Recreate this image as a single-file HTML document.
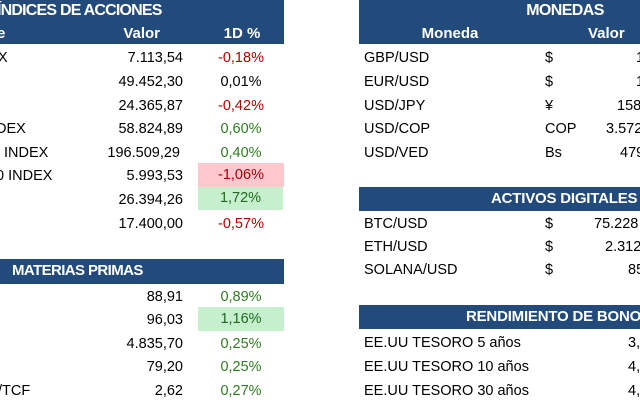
<!DOCTYPE html>
<html><head><meta charset="utf-8"><style>
body{margin:0;width:640px;height:404px;overflow:hidden;background:#fff;position:relative;font-family:"Liberation Sans",sans-serif;font-size:14.5px;color:#000}
.h{position:absolute;background:#224a7a;color:#fff;font-weight:bold;letter-spacing:-0.6px}
.t{position:absolute;white-space:nowrap;line-height:24px;height:24px}
.r{text-align:right}.c{text-align:center}
.red{color:#b00000}.grn{color:#2e7d1e}
.pk{background:#ffc7ce;color:#9c0006}.gk{background:#c6efce;color:#1e6b1e}
</style></head><body>
<div class="h" style="left:0;top:0;width:284px;height:44px"></div>
<div class="t" style="left:-3px;top:-1px;color:#fff;font-weight:bold;font-size:16px;letter-spacing:-0.8px">ÍNDICES DE ACCIONES</div>
<div class="t" style="left:-3px;top:22px;color:#fff;font-weight:bold;font-size:15px">e</div>
<div class="t r" style="left:100px;width:60px;top:22px;color:#fff;font-weight:bold;font-size:15px">Valor</div>
<div class="t c" style="left:200px;width:84px;top:22px;color:#fff;font-weight:bold;font-size:15px">1D %</div>

<div class="t" style="left:-2px;top:46px">X</div>
<div class="t" style="left:-4px;top:117px">DEX</div>
<div class="t" style="left:4px;top:141px">INDEX</div>
<div class="t" style="left:-4px;top:164px">0 INDEX</div>

<div class="t r" style="left:90px;width:93px;top:46px">7.113,54</div>
<div class="t r" style="left:90px;width:93px;top:70px">49.452,30</div>
<div class="t r" style="left:90px;width:93px;top:94px">24.365,87</div>
<div class="t r" style="left:90px;width:93px;top:117px">58.824,89</div>
<div class="t r" style="left:80px;width:100px;top:141px">196.509,29</div>
<div class="t r" style="left:90px;width:93px;top:164px">5.993,53</div>
<div class="t r" style="left:90px;width:93px;top:188px">26.394,26</div>
<div class="t r" style="left:90px;width:93px;top:212px">17.400,00</div>

<div class="t c red" style="left:198px;width:86px;top:46px">-0,18%</div>
<div class="t c" style="left:198px;width:86px;top:70px">0,01%</div>
<div class="t c red" style="left:198px;width:86px;top:94px">-0,42%</div>
<div class="t c grn" style="left:198px;width:86px;top:117px">0,60%</div>
<div class="t c grn" style="left:198px;width:86px;top:141px">0,40%</div>
<div class="t c pk" style="left:198px;width:86px;top:163px">-1,06%</div>
<div class="t c gk" style="left:198px;width:85px;top:187px;height:23px;line-height:23px">1,72%</div>
<div class="t c red" style="left:198px;width:86px;top:212px">-0,57%</div>

<div class="h" style="left:0;top:259px;width:284px;height:25px"></div>
<div class="t" style="left:12px;top:259px;color:#fff;font-weight:bold;font-size:15px;letter-spacing:-0.6px">MATERIAS PRIMAS</div>
<div class="t" style="left:-5px;top:285px">)</div>
<div class="t" style="left:-2px;top:379px">/TCF</div>
<div class="t r" style="left:90px;width:93px;top:285px">88,91</div>
<div class="t r" style="left:90px;width:93px;top:308px">96,03</div>
<div class="t r" style="left:90px;width:93px;top:332px">4.835,70</div>
<div class="t r" style="left:90px;width:93px;top:355px">79,20</div>
<div class="t r" style="left:90px;width:93px;top:379px">2,62</div>
<div class="t c grn" style="left:198px;width:86px;top:285px">0,89%</div>
<div class="t c gk" style="left:198px;width:86px;top:307px">1,16%</div>
<div class="t c grn" style="left:198px;width:86px;top:332px">0,25%</div>
<div class="t c grn" style="left:198px;width:86px;top:355px">0,25%</div>
<div class="t c grn" style="left:198px;width:86px;top:379px">0,27%</div>

<div class="h" style="left:359px;top:0;width:281px;height:44px"></div>
<div class="t c" style="left:505px;width:120px;top:-1px;color:#fff;font-weight:bold;font-size:16px;letter-spacing:-0.6px">MONEDAS</div>
<div class="t c" style="left:400px;width:100px;top:22px;color:#fff;font-weight:bold;font-size:15px">Moneda</div>
<div class="t" style="left:588px;top:22px;color:#fff;font-weight:bold;font-size:15px">Valor</div>
<div class="t" style="left:364px;top:46px">GBP/USD</div>
<div class="t" style="left:364px;top:70px">EUR/USD</div>
<div class="t" style="left:364px;top:94px">USD/JPY</div>
<div class="t" style="left:364px;top:117px">USD/COP</div>
<div class="t" style="left:364px;top:141px">USD/VED</div>
<div class="t" style="left:545px;top:46px">$</div>
<div class="t" style="left:545px;top:70px">$</div>
<div class="t" style="left:545px;top:94px">¥</div>
<div class="t" style="left:545px;top:117px">COP</div>
<div class="t" style="left:545px;top:141px">Bs</div>
<div class="t" style="left:636px;top:46px">1</div>
<div class="t" style="left:636px;top:70px">1</div>
<div class="t" style="left:617px;top:94px">158</div>
<div class="t" style="left:606px;top:117px">3.572</div>
<div class="t" style="left:620px;top:141px">479</div>

<div class="h" style="left:359px;top:187px;width:281px;height:24px"></div>
<div class="t" style="left:491px;top:187px;color:#fff;font-weight:bold;font-size:15px;letter-spacing:-0.2px">ACTIVOS DIGITALES</div>
<div class="t" style="left:364px;top:212px">BTC/USD</div>
<div class="t" style="left:364px;top:235px">ETH/USD</div>
<div class="t" style="left:364px;top:258px">SOLANA/USD</div>
<div class="t" style="left:545px;top:212px">$</div>
<div class="t" style="left:545px;top:235px">$</div>
<div class="t" style="left:545px;top:258px">$</div>
<div class="t" style="left:594px;top:212px">75.228</div>
<div class="t" style="left:605px;top:235px">2.312</div>
<div class="t" style="left:628px;top:258px">85</div>

<div class="h" style="left:359px;top:305px;width:281px;height:24px"></div>
<div class="t" style="left:466px;top:305px;color:#fff;font-weight:bold;font-size:15px;letter-spacing:-0.2px">RENDIMIENTO DE BONOS</div>
<div class="t" style="left:364px;top:331px">EE.UU TESORO 5 años</div>
<div class="t" style="left:364px;top:355px">EE.UU TESORO 10 años</div>
<div class="t" style="left:364px;top:379px">EE.UU TESORO 30 años</div>
<div class="t" style="left:628px;top:331px">3,</div>
<div class="t" style="left:628px;top:355px">4,</div>
<div class="t" style="left:628px;top:379px">4,</div>
</body></html>
